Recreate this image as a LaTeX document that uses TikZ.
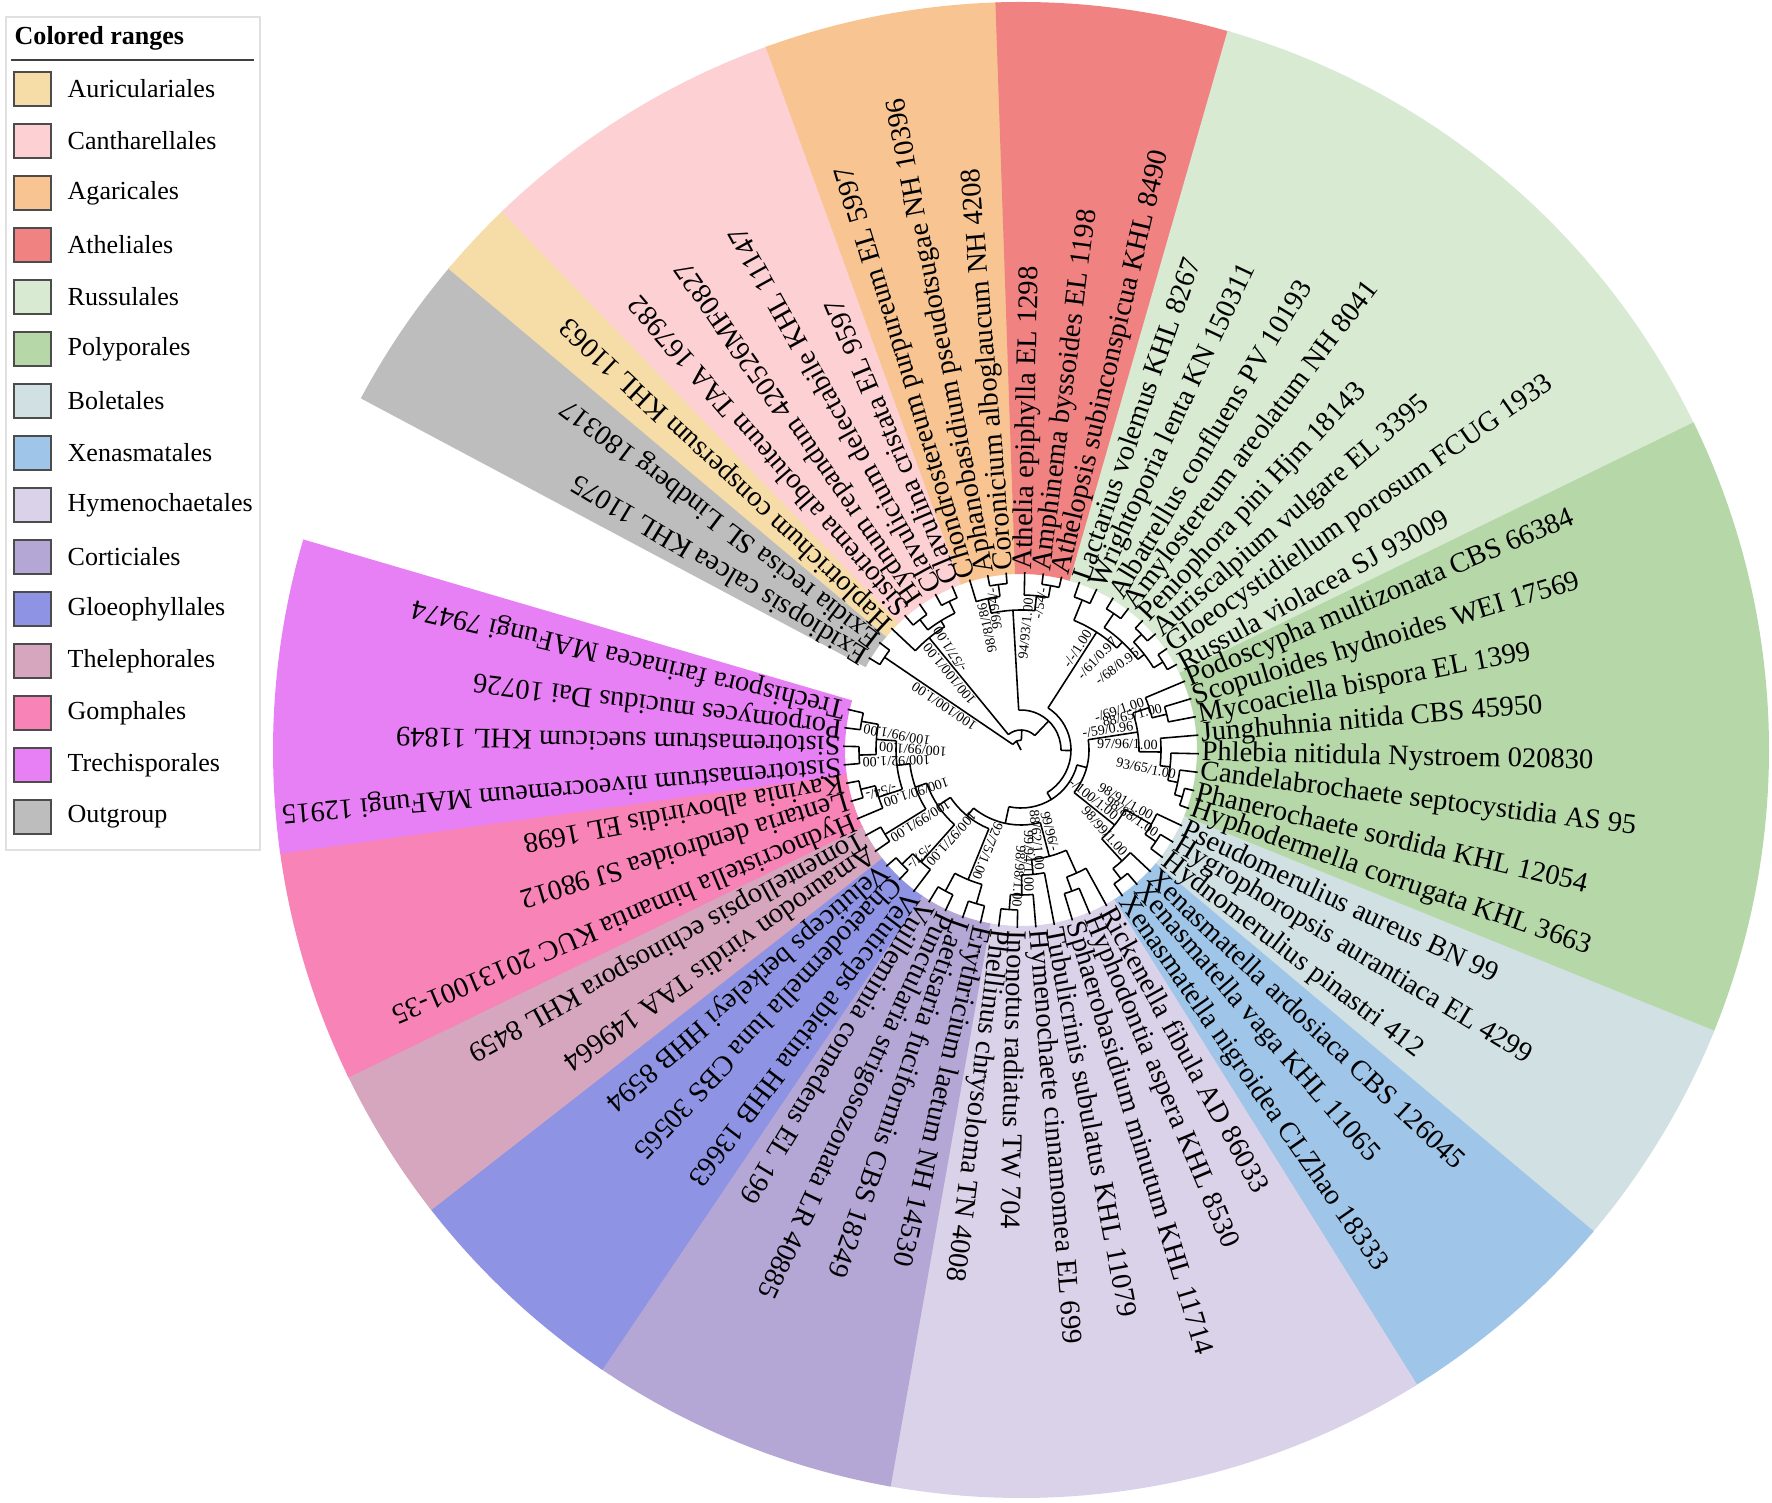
\documentclass[tikz,border=0pt]{standalone}
\usepackage{fontspec}
\setmainfont{Liberation Serif}
\definecolor{cOut}{HTML}{BDBDBD}
\definecolor{cAur}{HTML}{F6DCA6}
\definecolor{cCan}{HTML}{FDD0D3}
\definecolor{cAga}{HTML}{F8C592}
\definecolor{cAth}{HTML}{F18282}
\definecolor{cRus}{HTML}{D9EAD3}
\definecolor{cPol}{HTML}{B6D8A8}
\definecolor{cBol}{HTML}{D0E0E3}
\definecolor{cXen}{HTML}{9FC5E8}
\definecolor{cHym}{HTML}{D9D2E9}
\definecolor{cCor}{HTML}{B4A7D6}
\definecolor{cGlo}{HTML}{8E94E3}
\definecolor{cThe}{HTML}{D5A6BD}
\definecolor{cGom}{HTML}{F783B7}
\definecolor{cTre}{HTML}{E880F5}
\newcommand\wdg[3]{\fill[#1] ({#2+0.15}:176) arc[start angle={#2+0.15},end angle={#3-0.15},radius=1.76cm] -- ({#3-0.15}:748) arc[start angle={#3-0.15},end angle={#2+0.15},radius=7.48cm] -- cycle;}
\newcommand\cl[5]{\draw[treeln] (#1:#2) -- (#1:#3); \draw[treeln] (#4:#3) arc[start angle=#4,end angle=#5,radius=#3*0.01cm];}
\newcommand\lf[4]{\draw[treeln] (#1:#2) -- (#1:178); \node[leaflab, rotate=#1] (#3) at (#1:180) {#4};}
\newcommand\bsv[3]{\node[suplab, rotate=#1] at (#1:{#2-1}) {#3};}
\begin{document}
\begin{tikzpicture}[x=0.01cm,y=0.01cm,
  treeln/.style={line width=0.45pt, black},
  leaflab/.style={anchor=west, inner sep=0pt, font=\fontsize{8.1}{9}\selectfont},
  suplab/.style={anchor=south east, inner sep=0.5pt, font=\fontsize{4}{4.5}\selectfont},
  legtext/.style={anchor=west, inner sep=0pt, font=\fontsize{7.4}{8}\selectfont}]
\useasboundingbox (0,0) rectangle (1772,1502);
\fill[white] (0,0) rectangle (1772,1502);
% legend
\draw[black!12, line width=0.5pt] (6,652) rectangle (260,1485);
\node[legtext, font=\bfseries\fontsize{7.4}{8}\selectfont] (legtitle) at (14,1464) {Colored ranges};
\draw[black!75, line width=0.5pt] (11,1442) -- (254,1442);
\foreach \c/\t [count=\k from 0] in {cAur/Auriculariales, cCan/Cantharellales, cAga/Agaricales, cAth/Atheliales, cRus/Russulales, cPol/Polyporales, cBol/Boletales, cXen/Xenasmatales, cHym/Hymenochaetales, cCor/Corticiales, cGlo/Gloeophyllales, cThe/Thelephorales, cGom/Gomphales, cTre/Trechisporales, cOut/Outgroup}{
  \draw[fill=\c, draw=black!70, line width=0.4pt] (14,{1413-52*\k-17}) rectangle (51,{1413-52*\k+17});
  \node[legtext] (leg\k) at (67,{1413-52*\k}) {\t};
}
\begin{scope}[shift={(1021,752)}]
% coloured ranges
\wdg{cOut}{151.8}{139.8}
\wdg{cAur}{139.8}{133.8}
\wdg{cCan}{133.8}{109.8}
\wdg{cAga}{109.8}{91.8}
\wdg{cAth}{91.8}{73.8}
\wdg{cRus}{73.8}{25.8}
\wdg{cPol}{25.8}{-22.2}
\wdg{cBol}{-22.2}{-40.2}
\wdg{cXen}{-40.2}{-58.2}
\wdg{cHym}{-58.2}{-100.2}
\wdg{cCor}{-100.2}{-124.2}
\wdg{cGlo}{-124.2}{-142.2}
\wdg{cThe}{-142.2}{-154.2}
\wdg{cGom}{-154.2}{-172.2}
\wdg{cTre}{-172.2}{-196.2}
% tree
\draw[treeln] (116.8:0) -- (116.8:10);
\draw[treeln] (145.8:10) arc[start angle=145.8,end angle=87.8,radius=0.1cm];
\cl{145.8}{10}{165}{148.8}{142.8}
\lf{148.8}{165}{l0}{Exidiopsis calcea KHL 11075}
\lf{142.8}{165}{l1}{Exidia recisa SL Lindberg 180317}
\cl{87.8}{10}{20}{129.3}{46.35}
\cl{129.3}{20}{145}{136.8}{121.8}
\lf{136.8}{145}{l2}{Haplotrichum conspersum KHL 11063}
\cl{121.8}{145}{152}{127.8}{115.8}
\cl{127.8}{152}{165}{130.8}{124.8}
\lf{130.8}{165}{l3}{Sistotrema alboluteum TAA 167982}
\lf{124.8}{165}{l4}{Hydnum repandum 420526MF0827}
\cl{115.8}{152}{165}{118.8}{112.8}
\lf{118.8}{165}{l5}{Clavulicium delectabile KHL 11147}
\lf{112.8}{165}{l6}{Clavulina cristata EL 9597}
\cl{46.35}{20}{40}{93.3}{-0.6}
\cl{93.3}{40}{140}{102.3}{84.3}
\cl{102.3}{140}{155}{106.8}{97.8}
\lf{106.8}{155}{l7}{Chondrostereum purpureum EL 5997}
\cl{97.8}{155}{167}{100.8}{94.8}
\lf{100.8}{167}{l8}{Aphanobasidium pseudotsugae NH 10396}
\lf{94.8}{167}{l9}{Coronicium alboglaucum NH 4208}
\cl{84.3}{140}{155}{88.8}{79.8}
\lf{88.8}{155}{l10}{Athelia epiphylla EL 1298}
\cl{79.8}{155}{167}{82.8}{76.8}
\lf{82.8}{167}{l11}{Amphinema byssoides EL 1198}
\lf{76.8}{167}{l12}{Athelopsis subinconspicua KHL 8490}
\cl{-0.6}{40}{50}{57.3}{-58.5}
\cl{57.3}{50}{140}{67.8}{46.8}
\cl{67.8}{140}{162}{70.8}{64.8}
\lf{70.8}{162}{l13}{Lactarius volemus KHL 8267}
\lf{64.8}{162}{l14}{Wrightoporia lenta KN 150311}
\cl{46.8}{140}{148}{55.8}{37.8}
\cl{55.8}{148}{165}{58.8}{52.8}
\lf{58.8}{165}{l15}{Albatrellus confluens PV 10193}
\lf{52.8}{165}{l16}{Amylostereum areolatum NH 8041}
\cl{37.8}{148}{156}{43.8}{31.8}
\cl{43.8}{156}{167}{46.8}{40.8}
\lf{46.8}{167}{l17}{Peniophora pini Hjm 18143}
\lf{40.8}{167}{l18}{Auriscalpium vulgare EL 3395}
\cl{31.8}{156}{167}{34.8}{28.8}
\lf{34.8}{167}{l19}{Gloeocystidiellum porosum FCUG 1933}
\lf{28.8}{167}{l20}{Russula violacea SJ 93009}
\cl{-58.5}{50}{58}{-14.98}{-102.1}
\cl{-14.98}{58}{68}{8.74}{-38.7}
\cl{8.74}{68}{118}{18.3}{-0.825}
\cl{18.3}{118}{135}{22.8}{13.8}
\lf{22.8}{135}{l21}{Podoscypha multizonata CBS 66384}
\cl{13.8}{135}{150}{16.8}{10.8}
\lf{16.8}{150}{l22}{Scopuloides hydnoides WEI 17569}
\lf{10.8}{150}{l23}{Mycoaciella bispora EL 1399}
\cl{-0.825}{118}{140}{4.8}{-6.45}
\lf{4.8}{140}{l24}{Junghuhnia nitida CBS 45950}
\cl{-6.45}{140}{150}{-1.2}{-11.7}
\lf{-1.2}{150}{l25}{Phlebia nitidula Nystroem 020830}
\cl{-11.7}{150}{160}{-7.2}{-16.2}
\lf{-7.2}{160}{l26}{Candelabrochaete septocystidia AS 95}
\cl{-16.2}{160}{168}{-13.2}{-19.2}
\lf{-13.2}{168}{l27}{Phanerochaete sordida KHL 12054}
\lf{-19.2}{168}{l28}{Hyphodermella corrugata KHL 3663}
\cl{-38.7}{68}{120}{-29.7}{-47.7}
\cl{-29.7}{120}{150}{-25.2}{-34.2}
\lf{-25.2}{150}{l29}{Pseudomerulius aureus BN 99}
\cl{-34.2}{150}{163}{-31.2}{-37.2}
\lf{-31.2}{163}{l30}{Hygrophoropsis aurantiaca EL 4299}
\lf{-37.2}{163}{l31}{Hydnomerulius pinastri 412}
\cl{-47.7}{120}{150}{-43.2}{-52.2}
\lf{-43.2}{150}{l32}{Xenasmatella ardosiaca CBS 126045}
\cl{-52.2}{150}{163}{-49.2}{-55.2}
\lf{-49.2}{163}{l33}{Xenasmatella vaga KHL 11065}
\lf{-55.2}{163}{l34}{Xenasmatella nigroidea CLZhao 18333}
\cl{-102.1}{58}{75}{-75.1}{-129.2}
\cl{-75.1}{75}{110}{-65.7}{-84.45}
\cl{-65.7}{110}{135}{-61.2}{-70.2}
\lf{-61.2}{135}{l35}{Rickenella fibula AD 86033}
\cl{-70.2}{135}{150}{-67.2}{-73.2}
\lf{-67.2}{150}{l36}{Hyphodontia aspera KHL 8530}
\lf{-73.2}{150}{l37}{Sphaerobasidium minutum KHL 11714}
\cl{-84.45}{110}{125}{-79.2}{-89.7}
\lf{-79.2}{125}{l38}{Tubulicrinis subulatus KHL 11079}
\cl{-89.7}{125}{145}{-85.2}{-94.2}
\lf{-85.2}{145}{l39}{Hymenochaete cinnamomea EL 699}
\cl{-94.2}{145}{160}{-91.2}{-97.2}
\lf{-91.2}{160}{l40}{Inonotus radiatus TW 704}
\lf{-97.2}{160}{l41}{Phellinus chrysoloma TN 4008}
\cl{-129.2}{75}{85}{-112.2}{-146.1}
\cl{-112.2}{85}{140}{-106.2}{-118.2}
\cl{-106.2}{140}{160}{-103.2}{-109.2}
\lf{-103.2}{160}{l42}{Erythricium laetum NH 14530}
\lf{-109.2}{160}{l43}{Laetisaria fuciformis CBS 18249}
\cl{-118.2}{140}{160}{-115.2}{-121.2}
\lf{-115.2}{160}{l44}{Punctularia strigosozonata LR 40885}
\lf{-121.2}{160}{l45}{Vuilleminia comedens EL 199}
\cl{-146.1}{85}{100}{-131.7}{-160.6}
\cl{-131.7}{100}{150}{-127.2}{-136.2}
\lf{-127.2}{150}{l46}{Veluticeps abietina HHB 13663}
\cl{-136.2}{150}{165}{-133.2}{-139.2}
\lf{-133.2}{165}{l47}{Chaetodermella luna CBS 30565}
\lf{-139.2}{165}{l48}{Veluticeps berkeleyi HHB 8594}
\cl{-160.6}{100}{112}{-148.2}{-172.95}
\cl{-148.2}{112}{160}{-145.2}{-151.2}
\lf{-145.2}{160}{l49}{Amaurodon viridis TAA 149664}
\lf{-151.2}{160}{l50}{Tomentellopsis echinospora KHL 8459}
\cl{-172.95}{112}{125}{-161.7}{-184.2}
\cl{-161.7}{125}{150}{-157.2}{-166.2}
\lf{-157.2}{150}{l51}{Hydnocristella himantia KUC 20131001-35}
\cl{-166.2}{150}{165}{-163.2}{-169.2}
\lf{-163.2}{165}{l52}{Lentaria dendroidea SJ 98012}
\lf{-169.2}{165}{l53}{Kavinia alboviridis EL 1698}
\cl{-184.2}{125}{145}{-178.2}{-190.2}
\cl{-178.2}{145}{162}{-175.2}{-181.2}
\lf{-175.2}{162}{l54}{Sistotremastrum niveocremeum MAFungi 12915}
\lf{-181.2}{162}{l55}{Sistotremastrum suecicum KHL 11849}
\cl{-190.2}{145}{162}{-187.2}{-193.2}
\lf{-187.2}{162}{l56}{Porpomyces mucidus Dai 10726}
\lf{-193.2}{162}{l57}{Trechispora farinacea MAFungi 79474}
% support values (ending at the node they support)
\node[suplab, anchor=south, rotate=145.8] at (145.8:88) {100/100/1.00};
\bsv{129.3}{145}{100/100/1.00}
\bsv{121.8}{152}{-/57/1.00}
\bsv{102.3}{155}{98/81/86}
\bsv{97.8}{167}{99/94/-}
\bsv{84.3}{155}{94/93/1.00}
\bsv{79.8}{167}{-/54/-}
\bsv{57.3}{140}{-/-/1.00}
\bsv{46.8}{148}{-/61/0.97}
\bsv{37.8}{156}{-/68/0.95}
\bsv{18.3}{135}{-/69/1.00}
\bsv{13.8}{150}{88/65/1.00}
\bsv{-0.825}{140}{97/96/1.00}
\bsv{8.74}{118}{-/59/0.96}
\bsv{-11.7}{160}{93/65/1.00}
\bsv{-29.7}{150}{98/91/1.00}
\bsv{-34.2}{163}{98/88/1.00}
\bsv{-38.7}{120}{-/100/1.00}
\bsv{-47.7}{150}{98/99/1.00}
\bsv{-75.1}{110}{99/96/-}
\bsv{-84.45}{125}{88/62/1.00}
\bsv{-89.7}{145}{99/94/1.00}
\bsv{-94.2}{160}{98/98/1.00}
\bsv{-112.2}{140}{92/75/1.00}
\bsv{-131.7}{150}{100/97/1.00}
\bsv{-136.2}{165}{-/57/-}
\bsv{-148.2}{160}{100/99/1.00}
\bsv{-161.7}{150}{100/90/1.00}
\bsv{-166.2}{165}{-/54/-}
\bsv{-178.2}{162}{100/92/1.00}
\bsv{-184.2}{145}{100/99/1.00}
\bsv{-190.2}{162}{100/99/1.00}
\end{scope}
\end{tikzpicture}
\end{document}
